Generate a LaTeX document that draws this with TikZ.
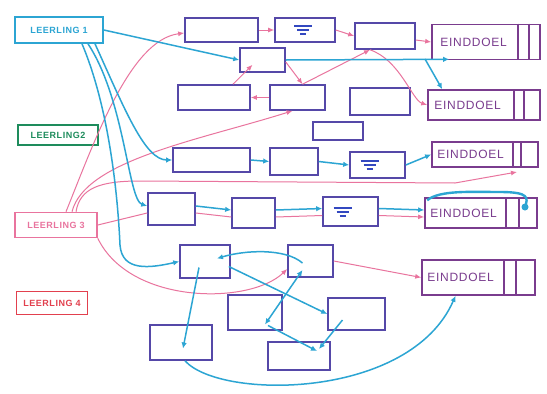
\documentclass[tikz,border=0pt]{standalone}
\usepackage{fontspec}
\setmainfont{Liberation Sans}
\newfontfamily\handfont[LetterSpace=6]{Liberation Sans}
\usetikzlibrary{arrows.meta}
\definecolor{cy}{HTML}{2CA5D3}
\definecolor{pk}{HTML}{E9749E}
\definecolor{bx}{HTML}{5548A8}
\definecolor{eb}{HTML}{7A3C8E}
\definecolor{gr}{HTML}{1E8C5C}
\definecolor{rd}{HTML}{E2404E}
\definecolor{eqc}{HTML}{3348C0}
\newcommand\eqsym[2]{%
  \draw[eqc, line width=2pt] ([shift={(#2-9,-4)}]#1.center) -- ++(18,0)
    ([shift={(#2-6,0)}]#1.center) -- ++(12,0)
    ([shift={(#2-3,4)}]#1.center) -- ++(6,0);}
\tikzset{
  box/.style={draw=bx, line width=1.6pt, rectangle, inner sep=0pt},
  ebox/.style={draw=eb, line width=1.6pt, rectangle, inner sep=0pt},
  etext/.style={text=eb, font=\handfont\fontsize{12}{13}\selectfont, anchor=west, inner sep=0pt},
  lbox/.style={line width=1.6pt, rectangle, inner sep=0pt, font=\handfont\bfseries\fontsize{9}{10}\selectfont},
  cline/.style={draw=eb, line width=1.4pt},
  cyl/.style={draw=cy, line width=1.5pt, -{Latex[length=6pt,width=5.5pt]}},
  cyb/.style={draw=cy, line width=1.5pt, {Latex[length=6pt,width=5.5pt]}-{Latex[length=6pt,width=5.5pt]}},
  pkl/.style={draw=pk, line width=1pt, -{Latex[length=6pt,width=5pt]}},
  pkp/.style={draw=pk, line width=1pt},
}
\begin{document}
\begin{tikzpicture}[x=1pt, y=-1pt]
\fill[white] (0,0) rectangle (547,394);
\useasboundingbox (0,0) rectangle (547,394);

% learners
\node[lbox, draw=cy, text=cy, minimum width=88, minimum height=26] (L1) at (59,30) {LEERLING 1};
\node[lbox, draw=gr, text=gr, minimum width=80, minimum height=20] (L2) at (58,135) {LEERLING2};
\node[lbox, draw=pk, text=pk, minimum width=82, minimum height=25] (L3) at (56,225) {LEERLING 3};
\node[lbox, draw=rd, text=rd, minimum width=71, minimum height=23] (L4) at (52,303) {LEERLING 4};

% end goals
\node[ebox, minimum width=108, minimum height=35] (E1) at (486,42) {};
\node[ebox, minimum width=112, minimum height=30] (E2) at (484,105) {};
\node[ebox, minimum width=106, minimum height=25] (E3) at (485,154.5) {};
\node[ebox, minimum width=112, minimum height=30] (E4) at (481,213) {};
\node[ebox, minimum width=113, minimum height=35] (E5) at (478.5,277.5) {};
\node[etext] (E1t) at ([xshift=9]E1.west) {EINDDOEL};
\node[etext] (E2t) at ([xshift=7]E2.west) {EINDDOEL};
\node[etext] (E3t) at ([xshift=6]E3.west) {EINDDOEL};
\node[etext] (E4t) at ([xshift=6]E4.west) {EINDDOEL};
\node[etext] (E5t) at ([xshift=6]E5.west) {EINDDOEL};
\draw[cline] ([xshift=-23]E1.north east) -- ([xshift=-23]E1.south east)
             ([xshift=-12]E1.north east) -- ([xshift=-12]E1.south east);
\draw[cline] ([xshift=-27]E2.north east) -- ([xshift=-27]E2.south east)
             ([xshift=-17]E2.north east) -- ([xshift=-17]E2.south east);
\draw[cline] ([xshift=-26]E3.north east) -- ([xshift=-26]E3.south east)
             ([xshift=-18]E3.north east) -- ([xshift=-18]E3.south east);
\draw[cline] ([xshift=-32]E4.north east) -- ([xshift=-32]E4.south east)
             ([xshift=-19]E4.north east) -- ([xshift=-19]E4.south east);
\draw[cline] ([xshift=-32]E5.north east) -- ([xshift=-32]E5.south east)
             ([xshift=-20]E5.north east) -- ([xshift=-20]E5.south east);

% steps
\node[box, minimum width=73, minimum height=24] (A1) at (221.5,30) {};
\node[box, minimum width=60, minimum height=24] (A2) at (305,30) {};
\node[box, minimum width=60, minimum height=26] (A3) at (385,36) {};
\node[box, minimum width=45, minimum height=24] (B1) at (262.5,60) {};
\node[box, minimum width=72, minimum height=25] (B2) at (214,97.5) {};
\node[box, minimum width=55, minimum height=25] (B3) at (297.5,97.5) {};
\node[box, minimum width=60, minimum height=27] (B4) at (380,101.5) {};
\node[box, minimum width=50, minimum height=18] (C0) at (338,131) {};
\node[box, minimum width=77, minimum height=24] (C1) at (211.5,160) {};
\node[box, minimum width=48, minimum height=27] (C2) at (294,161.5) {};
\node[box, minimum width=55, minimum height=26] (C3) at (377.5,165) {};
\node[box, minimum width=47, minimum height=32] (D1) at (171.5,209) {};
\node[box, minimum width=43, minimum height=30] (D2) at (253.5,213) {};
\node[box, minimum width=55, minimum height=29] (D3) at (350.5,211.5) {};
\node[box, minimum width=50, minimum height=33] (F1) at (205,261.5) {};
\node[box, minimum width=45, minimum height=32] (F2) at (310.5,261) {};
\node[box, minimum width=54, minimum height=35] (G1) at (255,312.5) {};
\node[box, minimum width=57, minimum height=32] (G2) at (356.5,314) {};
\node[box, minimum width=62, minimum height=35] (H1) at (181,342.5) {};
\node[box, minimum width=62, minimum height=28] (H2) at (299,356) {};
\eqsym{A2}{-2}
\eqsym{C3}{-8}
\eqsym{D3}{-8}

% pink connectors
\draw[pkl] (A1.east) -- (A2.west);
\draw[pkl] (A2.east) -- (A3.west);
\draw[pkl] ([yshift=-4]A3.east) -- (E1.west);
\draw[pkl] ([xshift=10]L3.north) .. controls (95,140) and (130,40) .. ([yshift=-3]A1.west);
\draw[pkl] ([xshift=16]L3.north) .. controls (85,160) and (200,140) .. ([xshift=-5]B3.south);
\coordinate (p3) at (517,172);
\draw[pkl] ([xshift=20]L3.north) .. controls (80,188) and (100,181) .. (140,181) -- (455,183) -- (p3);
\draw[pkl] ([xshift=19]B2.north) -- ([xshift=-10,yshift=8]B1.south);
\draw[pkl] (B3.west) -- (B2.east);
\draw[pkl] ([yshift=-2]B1.east) -- ([xshift=5]B3.north);
\draw[pkl] ([xshift=5]B3.north) -- ([xshift=-15]A3.south);
\draw[pkl] ([xshift=-15]A3.south) .. controls (400,60) and (412,100) .. (E2.west);
\draw[pkp] (L3.east) -- ([yshift=-4]D1.west);
\draw[pkp] ([yshift=-4]D1.east) -- ([yshift=-4]D2.west);
\draw[pkp] ([yshift=-4]D2.east) -- ([yshift=-4]D3.west);
\draw[pkl] ([yshift=-4]D3.east) -- ([yshift=-4]E4.west);
\draw[pkl] (L3.south east) .. controls (130,305) and (250,305) .. ([yshift=-8]F2.west);
\draw[pkl] (F2.east) -- (E5.west);

% cyan connectors
\draw[cyl] (L1.east) -- (B1.west);
\draw[cyl] ([xshift=36]L1.south) .. controls (125,110) and (145,160) .. (C1.west);
\draw[cyl] ([xshift=29]L1.south) .. controls (125,100) and (128,200) .. ([yshift=3]D1.west);
\draw[cyl] ([xshift=23]L1.south) .. controls (110,110) and (118,200) .. (120,245)
            .. controls (122,272) and (150,268) .. (F1.west);
\coordinate (j1) at (425,59);
\draw[cyl] (B1.east) -- ([xshift=18,yshift=1]E1.south west);
\draw[cyl] (j1) -- ([xshift=15]E2.north west);
\draw[cyl] (C1.east) -- (C2.west);
\draw[cyl] (C2.east) -- (C3.west);
\draw[cyl] (C3.east) -- (E3.west);
\draw[cyl] ([yshift=3]D1.east) -- ([yshift=3]D2.west);
\draw[cyl] ([yshift=3]D2.east) -- ([yshift=3]D3.west);
\draw[cyl] ([yshift=3]D3.east) -- ([yshift=3]E4.west);
\coordinate (e4d) at (525,207);
\draw[draw=cy, line width=2.4pt] ([xshift=3,yshift=-3]E4.north west) .. controls (440,190) and (470,192) .. (500,192)
            .. controls (530,192) and (528,198) .. (e4d);
\fill[cy] (e4d) circle (3.5);
\draw[cyl] ([xshift=-8,yshift=-2]F2.center) .. controls (285,248) and (245,250) .. ([xshift=12,yshift=3]F1.center);
\draw[cyl] ([xshift=-2,yshift=-5]F1.east) -- (G2.west);
\draw[cyl] ([xshift=-6,yshift=-6]F1.center) -- ([xshift=2,yshift=-6]H1.center);
\draw[cyl] ([xshift=4]H1.south) .. controls (220,400) and (410,400) .. ([xshift=-23]E5.south);
\draw[cyb] ([xshift=10,yshift=-12]G1.center) -- ([xshift=-8,yshift=-9]F2.center);
\draw[cyl] ([xshift=13,yshift=-13]G1.center) -- ([xshift=18,yshift=5]H2.center);
\draw[cyl] ([xshift=-14,yshift=-6]G2.center) -- ([xshift=20,yshift=7]H2.center);
\end{tikzpicture}
\end{document}
